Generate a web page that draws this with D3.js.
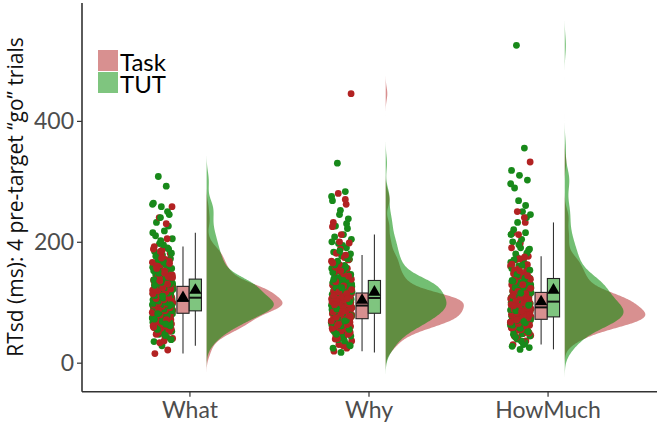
<!DOCTYPE html>
<html>
<head>
<meta charset="utf-8">
<script src="https://cdn.jsdelivr.net/npm/d3@7"></script>
<style>
body { margin: 0; background: #fff; }
svg { display: block; font-family: Lato, "DejaVu Sans", sans-serif; }
</style>
</head>
<body>
<svg width="657" height="426"></svg>
<script>
//Categories, conditions and ticks.
var categories = ['What', 'Why', 'HowMuch'];
var conditions = ['Task', 'TUT'];
var yTicks = [0, 200, 400];
var yLabel = 'RTsd (ms): 4 pre-target \u201cgo\u201d trials';

//RTsd values (ms), one array per category and condition.
var whatTask = [15, 21, 33, 40, 44, 48, 52, 55, 58, 60, 62, 64, 66, 68, 70, 72, 74, 75, 77, 79,
	80, 82, 83, 85, 86, 88, 89, 90, 91, 92, 93, 94, 95, 96, 97, 98, 99, 99, 100, 100,
	101, 103, 104, 106, 107, 108, 110, 111, 112, 114, 115, 116, 118, 119, 120, 121, 122, 124, 125, 126,
	128, 131, 134, 137, 140, 143, 146, 150, 154, 158, 162, 166, 171, 176, 181, 186, 192, 205, 240, 258,
	36, 47, 53, 57, 61, 65, 69, 71, 76, 78, 81, 84, 87, 90, 92, 94, 96, 97, 98, 100,
	102, 105, 109, 113, 117, 120, 123, 125, 126, 118, 129, 133, 139, 145, 152, 160, 168, 178, 188, 230,
	50, 56, 63, 67, 73, 79, 83, 86, 89, 91, 93, 95, 97, 99, 101, 104, 106, 108, 111, 114,
	117, 119, 122, 124, 127, 130, 135, 141, 148, 156, 164, 173, 59, 71, 88, 102, 112, 121, 142, 184];
var whatTUT = [28, 35, 42, 47, 52, 56, 59, 62, 65, 67, 69, 71, 73, 75, 77, 78, 80, 81, 83, 84,
	85, 86, 88, 89, 90, 91, 92, 93, 94, 95, 96, 97, 98, 99, 100, 101, 102, 103, 105, 106,
	108, 110, 112, 113, 115, 117, 118, 120, 122, 124, 125, 127, 128, 130, 132, 133, 135, 136, 138, 139,
	142, 146, 150, 154, 158, 163, 168, 172, 178, 184, 190, 197, 205, 218, 232, 245, 258, 264, 292, 308,
	38, 50, 58, 63, 70, 74, 79, 82, 66, 76, 87, 90, 93, 95, 97, 99, 101, 103, 104, 92,
	109, 114, 119, 123, 126, 129, 131, 134, 137, 116, 144, 152, 160, 170, 181, 195, 210, 226, 240, 262,
	45, 55, 61, 68, 72, 78, 83, 86, 89, 91, 94, 96, 98, 100, 102, 105, 107, 111, 115, 118,
	121, 124, 127, 130, 133, 137, 141, 148, 156, 166, 176, 188, 202, 215, 64, 81, 96, 110, 128, 250];
var whyTask = [19, 24, 30, 36, 41, 45, 48, 51, 54, 56, 58, 60, 62, 63, 65, 66, 67, 68, 70, 71,
	72, 73, 74, 75, 76, 77, 78, 79, 80, 81, 82, 83, 85, 86, 87, 88, 90, 91, 92, 94,
	95, 96, 97, 98, 99, 100, 101, 102, 103, 104, 105, 106, 107, 108, 109, 110, 111, 113, 114, 116,
	119, 122, 125, 128, 132, 136, 140, 145, 150, 156, 162, 168, 174, 181, 198, 212, 232, 262, 280, 445,
	28, 39, 47, 53, 57, 61, 64, 67, 69, 70, 74, 76, 79, 82, 84, 87, 89, 91, 93, 80,
	96, 98, 100, 102, 104, 106, 108, 110, 112, 115, 118, 124, 130, 138, 147, 158, 170, 188, 225, 270,
	40, 50, 55, 59, 63, 66, 69, 72, 75, 78, 81, 84, 86, 88, 90, 92, 94, 97, 99, 101,
	103, 105, 107, 109, 111, 114, 117, 121, 127, 134, 143, 152, 165, 178, 62, 77, 85, 96, 106, 200];
var whyTUT = [17, 24, 31, 38, 44, 49, 53, 56, 59, 62, 64, 66, 68, 70, 72, 74, 75, 77, 79, 80,
	81, 82, 84, 85, 87, 88, 89, 91, 92, 93, 95, 96, 97, 99, 100, 101, 102, 104, 105, 106,
	108, 110, 111, 113, 115, 116, 118, 120, 121, 123, 125, 126, 128, 129, 130, 131, 132, 134, 135, 136,
	139, 143, 147, 151, 156, 161, 166, 171, 177, 183, 190, 197, 204, 212, 226, 238, 252, 268, 283, 330,
	28, 42, 51, 58, 63, 67, 71, 75, 78, 60, 83, 86, 90, 94, 98, 100, 103, 105, 88, 96,
	109, 112, 117, 119, 122, 127, 130, 133, 135, 114, 141, 149, 158, 168, 180, 194, 208, 222, 245, 275,
	36, 47, 55, 61, 66, 70, 74, 78, 82, 85, 88, 91, 94, 97, 100, 103, 106, 109, 112, 115,
	118, 121, 124, 127, 130, 133, 136, 140, 146, 153, 162, 172, 185, 200, 69, 89, 101, 124, 138, 230];
var howMuchTask = [30, 36, 41, 45, 48, 51, 53, 55, 57, 59, 60, 62, 63, 64, 65, 66, 67, 68, 69, 70,
	71, 72, 73, 74, 75, 76, 77, 78, 79, 80, 81, 82, 83, 84, 85, 86, 88, 89, 90, 92,
	93, 94, 95, 96, 97, 98, 99, 100, 101, 102, 104, 105, 106, 108, 109, 110, 112, 113, 115, 117,
	120, 123, 126, 129, 132, 135, 139, 143, 147, 151, 155, 160, 165, 170, 176, 198, 214, 232, 250, 332,
	35, 44, 50, 54, 58, 61, 64, 66, 68, 69, 72, 74, 76, 78, 80, 82, 84, 86, 88, 91,
	95, 97, 99, 101, 103, 106, 109, 111, 114, 116, 119, 124, 131, 138, 145, 153, 162, 172, 190, 240,
	42, 49, 55, 59, 62, 65, 67, 70, 72, 74, 76, 78, 80, 82, 84, 86, 88, 90, 93, 96,
	99, 102, 105, 108, 111, 114, 118, 123, 129, 136, 144, 152, 163, 175, 71, 79, 85, 94, 107, 212];
var howMuchTUT = [22, 27, 33, 39, 44, 48, 52, 55, 58, 60, 62, 64, 66, 67, 68, 69, 70, 71, 73, 74,
	75, 76, 77, 78, 80, 81, 82, 83, 85, 86, 87, 89, 90, 91, 93, 94, 95, 97, 98, 100,
	102, 104, 106, 108, 110, 112, 114, 116, 118, 120, 122, 124, 126, 128, 130, 132, 134, 136, 138, 140,
	144, 149, 154, 160, 166, 172, 180, 186, 190, 200, 215, 232, 245, 250, 289, 302, 310, 318, 355, 525,
	25, 36, 47, 54, 59, 63, 66, 69, 72, 74, 77, 79, 82, 84, 88, 90, 92, 96, 99, 100,
	105, 109, 113, 117, 121, 125, 129, 133, 137, 139, 146, 156, 164, 175, 188, 204, 220, 240, 268, 296,
	30, 42, 51, 57, 62, 66, 70, 73, 76, 79, 82, 85, 88, 91, 94, 97, 100, 104, 108, 112,
	116, 120, 124, 128, 132, 136, 140, 146, 153, 161, 170, 181, 195, 212, 68, 86, 95, 115, 135, 260];

//Table the library works from.
var series = [
	{cat: 0, cond: 'Task', values: whatTask}, {cat: 0, cond: 'TUT', values: whatTUT},
	{cat: 1, cond: 'Task', values: whyTask}, {cat: 1, cond: 'TUT', values: whyTUT},
	{cat: 2, cond: 'Task', values: howMuchTask}, {cat: 2, cond: 'TUT', values: howMuchTUT}
];

var pointColor = {Task: '#b22222', TUT: '#18891a'};
var fillColor = {Task: '#b22222', TUT: '#008b00'};
var fillAlpha = {Task: 0.5, TUT: 0.55};

var svg = d3.select('svg');
var margin = {left: 82, right: 2, top: 3, bottom: 34.3};
var width = +svg.attr('width'), height = +svg.attr('height');

//Category positions 1..3 on a continuous x scale (ggplot-like 0.6 expansion).
var xScale = d3.scaleLinear().domain([0.4, 3.6]).range([margin.left, width - margin.right]);
var yScale = d3.scaleLinear().domain([-48, 595]).range([height - margin.bottom, margin.top]);

//Offsets (in x units) of the three layers around each category.
var pointOffset = -0.15, jitterHalf = 0.058;
var boxOffset = {Task: -0.036, TUT: 0.033}, boxHalf = 0.034;
var densityOffset = 0.096, densityWidth = 0.45;

//Kernel density (gaussian, nrd0 bandwidth, grid extends 3 bandwidths).
function kde(values) {
	var s = values.slice().sort(d3.ascending);
	var n = s.length;
	var iqr = d3.quantile(s, 0.75) - d3.quantile(s, 0.25);
	var bw = 0.9 * Math.min(d3.deviation(s), iqr / 1.34) * Math.pow(n, -0.2);
	var lo = s[0] - 3 * bw, hi = s[n - 1] + 3 * bw, steps = 512;
	var out = [];
	for (var k = 0; k < steps; ++k) {
		var v = lo + (hi - lo) * k / (steps - 1);
		var sum = 0;
		for (var j = 0; j < n; ++j) {
			var z = (v - s[j]) / bw;
			sum += Math.exp(-0.5 * z * z);
		}
		out.push([v, sum / (n * bw * Math.sqrt(2 * Math.PI))]);
	}
	return out;
}

function boxStats(values) {
	var s = values.slice().sort(d3.ascending);
	var q1 = d3.quantile(s, 0.25), q3 = d3.quantile(s, 0.75), iqr = q3 - q1;
	return {
		q1: q1, med: d3.quantile(s, 0.5), q3: q3, mean: d3.mean(s),
		lo: d3.min(s.filter(function(v) { return v >= q1 - 1.5 * iqr; })),
		hi: d3.max(s.filter(function(v) { return v <= q3 + 1.5 * iqr; }))
	};
}

series.forEach(function(d) {
	d.density = kde(d.values);
	d.stats = boxStats(d.values);
});
var maxDensity = d3.max(series, function(d) { return d3.max(d.density, function(p) { return p[1]; }); });
var wScale = d3.scaleLinear().domain([0, maxDensity]).range([0, xScale(1 + densityWidth) - xScale(1)]);

//Half-violins (Task first, TUT over it).
series.forEach(function(d) {
	var base = xScale(d.cat + 1 + densityOffset);
	var area = d3.area()
		.y(function(p) { return yScale(p[0]); })
		.x0(base)
		.x1(function(p) { return base + wScale(p[1]); });
	svg.append('path')
		.datum(d.density)
		.attr('d', area)
		.attr('fill', fillColor[d.cond])
		.attr('fill-opacity', fillAlpha[d.cond]);
});

//Jittered points, Task and TUT interleaved.
var pts = [];
series.filter(function(d) { return d.cond === 'Task'; }).forEach(function(task) {
	var tut = series.find(function(d) { return d.cat === task.cat && d.cond === 'TUT'; });
	var n = Math.max(task.values.length, tut.values.length);
	for (var i = 0; i < n; ++i) {
		if (i < task.values.length) pts.push({cat: task.cat, cond: 'Task', v: task.values[i], j: (i * 0.618034 + 0.13) % 1});
		if (i < tut.values.length) pts.push({cat: tut.cat, cond: 'TUT', v: tut.values[i], j: (i * 0.618034 + 0.47) % 1});
	}
});
svg.append('g').selectAll('circle')
	.data(pts)
	.join('circle')
	.attr('cx', function(d) { return xScale(d.cat + 1 + pointOffset + (d.j - 0.5) * 2 * jitterHalf); })
	.attr('cy', function(d) { return yScale(d.v); })
	.attr('r', 3.4)
	.attr('fill', function(d) { return pointColor[d.cond]; });

//Boxplots with mean triangles.
series.forEach(function(d) {
	var cx = xScale(d.cat + 1 + boxOffset[d.cond]);
	var hw = xScale(1 + boxHalf) - xScale(1);
	var st = d.stats, g = svg.append('g');
	g.append('line').attr('x1', cx).attr('x2', cx)
		.attr('y1', yScale(st.hi)).attr('y2', yScale(st.lo))
		.attr('stroke', '#333').attr('stroke-width', 1.1);
	g.append('rect').attr('x', cx - hw).attr('width', 2 * hw)
		.attr('y', yScale(st.q3)).attr('height', yScale(st.q1) - yScale(st.q3))
		.attr('fill', '#fff');
	g.append('rect').attr('x', cx - hw).attr('width', 2 * hw)
		.attr('y', yScale(st.q3)).attr('height', yScale(st.q1) - yScale(st.q3))
		.attr('fill', fillColor[d.cond]).attr('fill-opacity', 0.5)
		.attr('stroke', '#222').attr('stroke-width', 1.1);
	g.append('line').attr('x1', cx - hw).attr('x2', cx + hw)
		.attr('y1', yScale(st.med)).attr('y2', yScale(st.med))
		.attr('stroke', '#111').attr('stroke-width', 2);
	g.append('path')
		.attr('d', d3.symbol(d3.symbolTriangle, 66)())
		.attr('transform', 'translate(' + cx + ',' + yScale(st.mean) + ')')
		.attr('fill', '#000');
});

//Axes.
var yAxis = svg.append('g')
	.attr('transform', 'translate(' + margin.left + ',0)')
	.call(d3.axisLeft(yScale).tickValues(yTicks).tickSize(5).tickPadding(3));
var xAxis = svg.append('g')
	.attr('transform', 'translate(0,' + (height - margin.bottom) + ')')
	.call(d3.axisBottom(xScale).tickValues([1, 2, 3]).tickSize(5).tickPadding(5)
		.tickFormat(function(v) { return categories[v - 1]; }));
[yAxis, xAxis].forEach(function(ax) {
	ax.select('.domain').attr('stroke', '#333').attr('stroke-width', 1.6);
	ax.selectAll('.tick line').attr('stroke', '#333').attr('stroke-width', 1.2);
	ax.selectAll('.tick text').attr('fill', '#4d4d4d').style('font-family', 'Lato, sans-serif').style('font-size', '23px');
});
yAxis.select('.domain').attr('d', 'M0,' + margin.top + 'V' + (height - margin.bottom));
xAxis.select('.domain').attr('d', 'M' + margin.left + ',0H' + width);

//Axis title.
svg.append('text')
	.text(yLabel)
	.attr('transform', 'translate(23,' + 197 + ') rotate(-90)')
	.attr('text-anchor', 'middle')
	.style('font-family', '"Open Sans", sans-serif')
	.style('font-size', '21px')
	.attr('fill', '#111');

//Legend.
var legend = svg.append('g').attr('transform', 'translate(98,50)');
conditions.forEach(function(c, i) {
	legend.append('rect').attr('x', 0).attr('y', i * 22).attr('width', 20).attr('height', 21)
		.attr('fill', fillColor[c]).attr('fill-opacity', 0.5);
	legend.append('text').text(c).attr('x', 22).attr('y', i * 22 + 20.5)
		.style('font-size', '24px').attr('fill', '#000');
});
</script>
</body>
</html>
